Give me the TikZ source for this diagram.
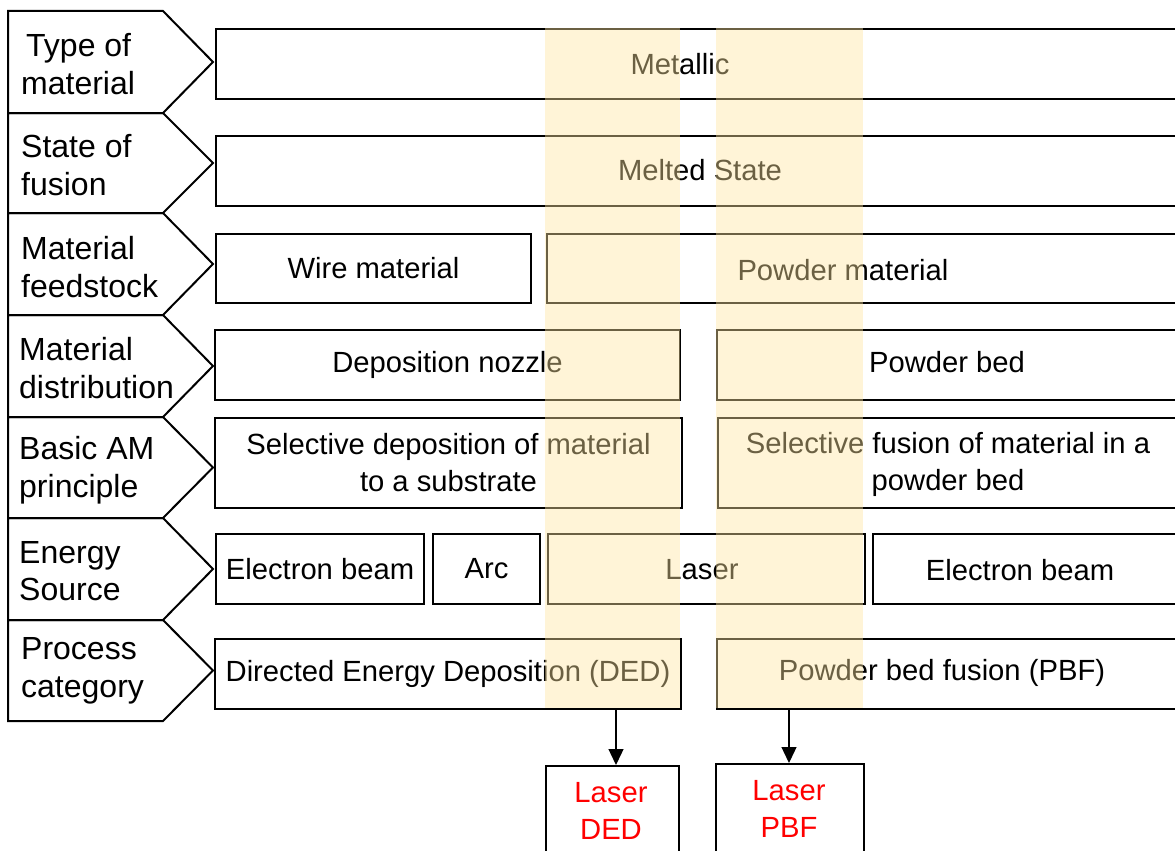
\documentclass[tikz,border=0pt]{standalone}
\usepackage{fontspec}
\setmainfont{Liberation Sans}
\usetikzlibrary{arrows.meta}
\definecolor{hl}{RGB}{255,230,160}
\definecolor{red0}{RGB}{255,0,0}
\begin{document}
\begin{tikzpicture}[x=1pt,y=-1pt,
  box/.style={draw=black,line width=2pt,inner sep=0pt,anchor=north west},
  lab/.style={draw=black,line width=2pt,line join=miter},
  txt/.style={font=\fontsize{29.2}{37}\selectfont,inner sep=0pt,align=center},
  ltxt/.style={font=\fontsize{32}{37.5}\selectfont,inner sep=0pt,align=left,anchor=west},
  strip/.style={fill=hl,fill opacity=0.42,draw=none},
  arr/.style={line width=1.3pt,-{Triangle[length=16pt,width=15pt]}}]
\clip (0,0) rectangle (1175,851);
\fill[white] (0,0) rectangle (1175,851);
% left labels
\foreach \t/\b in {11/113,113/213,213/315,315/417,417/518,518/620,620/721}{
  \draw[lab] (8,\t) -- (163,\t) -- (213,{(\t+\b)/2}) -- (163,\b) -- (8,\b) -- cycle;
}
\node[ltxt] (l1) at (21,64) {\hspace{5pt}Type of\\material};
\node[ltxt] (l2) at (21,165) {State of\\fusion};
\node[ltxt] (l3) at (21,267) {Material\\feedstock};
\node[ltxt] (l4) at (19,368) {Material\\distribution};
\node[ltxt] (l5) at (19,470) {Basic AM\\principle};
\node[ltxt] (l6) at (19,571) {Energy\\Source};
\node[ltxt] (l7) at (21,671) {Process\\category};
% boxes
\node[box,minimum width=1000pt,minimum height=70pt] (b1) at (215,28) {};
\node[txt] (t1) at (680,64) {Metallic};
\node[box,minimum width=1000pt,minimum height=70pt] (b2) at (215,135) {};
\node[txt] (t2) at (700,170) {Melted State};
\node[box,minimum width=315pt,minimum height=69pt,txt] (wire) at (215,233) {Wire material};
\node[box,minimum width=700pt,minimum height=69pt] (powder) at (546,233) {};
\node[txt] (t3) at (843,270) {Powder material};
\node[box,minimum width=465pt,minimum height=70pt,txt] (nozzle) at (214,329) {Deposition nozzle};
\node[box,minimum width=600pt,minimum height=70pt] (bed) at (716,329) {};
\node[txt] (t4) at (947,362) {Powder bed};
\node[box,minimum width=467pt,minimum height=90pt,txt] (selA) at (214,417) {Selective deposition of material\\to a substrate};
\node[box,minimum width=600pt,minimum height=90pt] (selB) at (717,417) {};
\node[txt] (t5) at (948,464) {Selective fusion of material in a\\powder bed};
\node[box,minimum width=208pt,minimum height=70pt,txt] (eb1) at (215,533) {Electron beam};
\node[box,minimum width=107pt,minimum height=70pt,txt] (arc) at (432,533) {Arc};
\node[box,minimum width=317pt,minimum height=70pt] (laser) at (547,533) {};
\node[txt] (t10) at (702,570) {Laser};
\node[box,minimum width=400pt,minimum height=70pt] (eb2) at (872,533) {};
\node[txt] (t6) at (1020,570) {Electron beam};
\node[box,minimum width=466pt,minimum height=70pt,txt] (ded) at (214,638) {Directed Energy Deposition (DED)};
\node[box,minimum width=600pt,minimum height=70pt] (pbf) at (716,638) {};
\node[txt] (t7) at (942,673) {Powder bed fusion (PBF)};
\node[box,minimum width=133pt,minimum height=200pt] (lded) at (545,765) {};
\node[txt,text=red0] (t8) at (611,811) {Laser\\DED};
\node[box,minimum width=148pt,minimum height=200pt] (lpbf) at (715,763) {};
\node[txt,text=red0] (t9) at (789,809) {Laser\\PBF};
% arrows
\coordinate (p1) at (616,0);
\coordinate (p2) at (789,0);
\draw[arr] (p1 |- ded.south) -- (p1 |- lded.north);
\draw[arr] (p2 |- pbf.south) -- (p2 |- lpbf.north);
% highlight strips
\fill[strip] (545,28) rectangle (680,708);
\fill[strip] (716,28) rectangle (863,708);
\end{tikzpicture}
\end{document}
